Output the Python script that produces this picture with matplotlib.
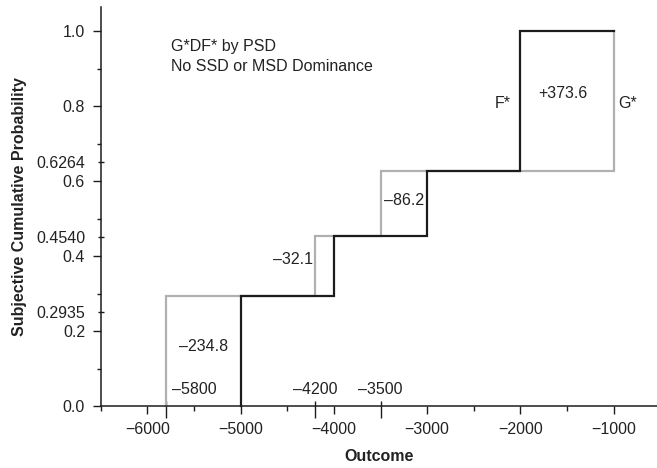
import numpy as np
import matplotlib
matplotlib.use("Agg")
import matplotlib.pyplot as plt
from matplotlib.path import Path

plt.rcParams['font.family'] = ['Liberation Sans', 'DejaVu Sans']
plt.rcParams['font.size'] = 11.5

# ---- data ----
cum_prob = [0.2935, 0.4540, 0.6264, 1.0]
outcomes_F = [-5000, -4000, -3000, -2000]
outcomes_G = [-5800, -4200, -3500, -1000]
area_labels = ["\u2013234.8", "\u201332.1", "\u201386.2", "+373.6"]
x_major = [-6000, -5000, -4000, -3000, -2000, -1000]
x_minor = [-6500, -5500, -4500, -3500, -2500, -1500]
y_major = [0.0, 0.2, 0.4, 0.6, 0.8, 1.0]
y_minor = [0.1, 0.3, 0.5, 0.7, 0.9]
y_extra_labels = ["0.2935", "0.4540", "0.6264"]
y_extra_pos = [0.25, 0.45, 0.65]
note_lines = ["G*DF* by PSD", "No SSD or MSD Dominance"]

GRAY = "#b0b0b0"
BLACK = "#1c1c1c"
TXT = "#222222"

fig = plt.figure(figsize=(6.57, 4.68), dpi=100)
ax = fig.add_axes([100.7 / 657, 1 - 406 / 468, 1 - 100.7 / 657, (406 - 7) / 468])


def steps(xs, ps):
    x = np.repeat(xs, 2).astype(float)
    y = np.concatenate([[0.0], np.repeat(ps, 2)[:-1]])
    return x, y


gx, gy = steps(outcomes_G, cum_prob)
fx, fy = steps(outcomes_F, cum_prob)
fx = np.append(fx, outcomes_G[-1])
fy = np.append(fy, cum_prob[-1])

ax.plot(gx, gy, color=GRAY, lw=1.6, zorder=2, solid_joinstyle='miter', clip_on=False)
ax.plot(fx, fy, color=BLACK, lw=1.6, zorder=3, solid_joinstyle='miter', clip_on=False)

ax.set_xlim(-6500, -536)
ax.set_ylim(0, 1.064)

for s in ['top', 'right']:
    ax.spines[s].set_visible(False)
for s in ['left', 'bottom']:
    ax.spines[s].set_linewidth(1.1)
    ax.spines[s].set_color(BLACK)

# x ticks: major + extra (inout) ticks at G outcomes
x_extra = outcomes_G[:3]
ax.set_xticks(x_major + x_extra,
              ["\u2212" + str(abs(v)) for v in x_major] + [""] * len(x_extra))
ax.set_xticks(x_minor, minor=True)
ax.set_yticks(y_major + y_extra_pos,
              [f"{v:.1f}" for v in y_major] + y_extra_labels)
ax.set_yticks(y_minor, minor=True)

ax.tick_params(axis='both', which='major', direction='out', length=5.8, width=1.0,
               color=BLACK, labelcolor=TXT, labelsize=11.5)
ax.tick_params(axis='x', which='major', pad=5.5)
ax.tick_params(axis='y', which='major', pad=5.5)
ax.tick_params(axis='both', which='minor', direction='out', length=3.5, width=1.0, color=BLACK)
ax.tick_params(axis='y', which='minor', length=3.0)

xmarker = Path([(0, 5), (0, -12)])
for t in ax.xaxis.get_major_ticks()[len(x_major):]:
    t.tick1line.set_marker(xmarker)
    t.tick1line.set_markersize(17.3)
for t in ax.yaxis.get_major_ticks()[len(y_major):]:
    t.tick1line.set_marker('_')
    t.tick1line.set_markersize(4.8)

# annotations
ax.text(-5750, 0.958, note_lines[0], ha='left', va='center', color=TXT)
ax.text(-5750, 0.905, note_lines[1], ha='left', va='center', color=TXT)

label_x = [-5500, outcomes_G[1], outcomes_G[2]]
for xv, gv in zip(label_x, x_extra):
    ax.text(xv, 0.043, "\u2013" + str(abs(gv)), ha='center', va='center', color=TXT)

area_pos = [(-5400, 0.158), (-4440, 0.391), (-3253, 0.549), (-1543, 0.834)]
for (xv, yv), lab in zip(area_pos, area_labels):
    ax.text(xv, yv, lab, ha='center', va='center', color=TXT)

ax.text(-2190, 0.807, "F*", ha='center', va='center', color=TXT)
ax.text(-856, 0.807, "G*", ha='center', va='center', color=TXT)

ax.set_xlabel("Outcome", fontweight='bold', color=TXT, labelpad=9)
ax.set_ylabel("Subjective Cumulative Probability", fontweight='bold', color=TXT, labelpad=6.5)

fig.savefig("out.png", dpi=100)
